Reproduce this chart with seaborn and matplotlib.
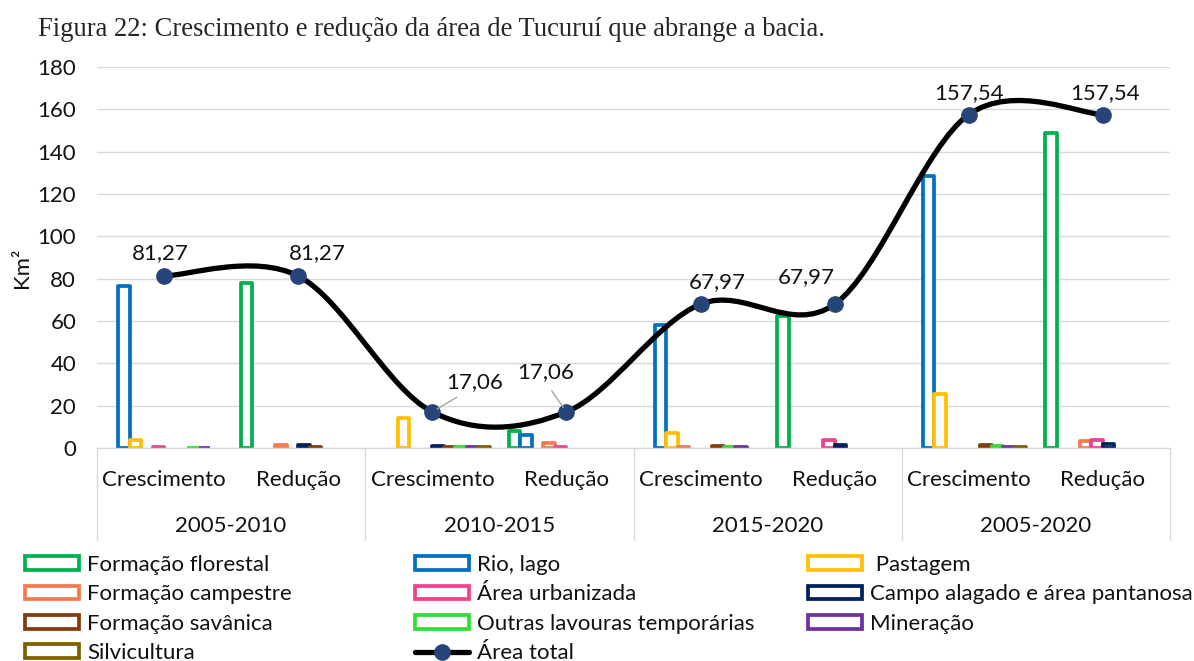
import pandas as pd
import matplotlib.pyplot as plt
import matplotlib.transforms as mtransforms
import seaborn as sns
from matplotlib.path import Path
from matplotlib.patches import PathPatch, Rectangle
from matplotlib.lines import Line2D

# Dados (km²)
periodos = ['2005-2010', '2010-2015', '2015-2020', '2005-2020']
tipos = ['Crescimento', 'Redução']
classes = ['Formação florestal', 'Rio, lago', ' Pastagem', 'Formação campestre',
           'Área urbanizada', 'Campo alagado e área pantanosa', 'Formação savânica',
           'Outras lavouras temporárias', 'Mineração', 'Silvicultura']
formacao_florestal = [0, 78.0, 0, 8.2, 0, 62.5, 0, 148.6]
rio_lago = [76.5, 0, 0, 6.0, 58.3, 0, 128.6, 0]
pastagem = [4.0, 0, 14.2, 0, 7.0, 0, 25.4, 0]
formacao_campestre = [0, 1.3, 0, 2.4, 0.6, 0, 0, 3.4]
area_urbanizada = [0.5, 0, 0, 0.46, 0, 4.0, 0, 3.8]
campo_alagado = [0, 1.5, 1.1, 0, 0, 1.47, 0, 1.74]
formacao_savanica = [0, 0.47, 0.6, 0, 0.8, 0, 1.2, 0]
outras_lavouras = [0.17, 0, 0.4, 0, 0.7, 0, 1.0, 0]
mineracao = [0.1, 0, 0.4, 0, 0.57, 0, 0.7, 0]
silvicultura = [0, 0, 0.36, 0, 0, 0, 0.64, 0]
area_total = [81.27, 81.27, 17.06, 17.06, 67.97, 67.97, 157.54, 157.54]

cores = ['#00B050', '#0070C0', '#FFC000', '#F47B50', '#F0438D',
         '#002060', '#843C0C', '#33DD33', '#7030A0', '#7F6000']
cor_marcador = '#264478'
cor_texto = '#111111'

valores = [formacao_florestal, rio_lago, pastagem, formacao_campestre, area_urbanizada,
           campo_alagado, formacao_savanica, outras_lavouras, mineracao, silvicultura]
cats = [f'{p} {t}' for p in periodos for t in tipos]
rows = []
for nome, vals in zip(classes, valores):
    for c, v in zip(cats, vals):
        if v > 0:
            rows.append({'cat': c, 'classe': nome, 'valor': v})
df = pd.DataFrame(rows)

sns.set_theme(style='white')
plt.rcParams['font.family'] = ['Lato', 'DejaVu Sans']
fs = 16
lw_barra = 2.7

fig = plt.figure(figsize=(11.94, 6.61), dpi=100)
ax = fig.add_axes([97 / 1194, 1 - 448 / 661, (1170 - 97) / 1194, (448 - 67) / 661])

sns.barplot(data=df, x='cat', y='valor', hue='classe', order=cats, hue_order=classes,
            palette=dict(zip(classes, cores)), width=0.8576, saturation=1,
            errorbar=None, legend=False, ax=ax, linewidth=lw_barra, zorder=2)
for p in ax.patches:
    c = p.get_facecolor()
    p.set_edgecolor(c)
    p.set_facecolor('white')
    p.set_joinstyle('round')

# linha suavizada (Bezier) da área total
xs = list(range(len(area_total)))
pts = list(zip(xs, area_total))
n = len(pts)
verts = [pts[0]]
codes = [Path.MOVETO]
for i in range(n - 1):
    p0 = pts[max(i - 1, 0)]
    p1 = pts[i]
    p2 = pts[i + 1]
    p3 = pts[min(i + 2, n - 1)]
    c1 = (p1[0] + (p2[0] - p0[0]) / 6, p1[1] + (p2[1] - p0[1]) / 6)
    c2 = (p2[0] - (p3[0] - p1[0]) / 6, p2[1] - (p3[1] - p1[1]) / 6)
    verts += [c1, c2, p2]
    codes += [Path.CURVE4] * 3
ax.add_patch(PathPatch(Path(verts, codes), facecolor='none', edgecolor='black',
                       lw=3.8, zorder=4, capstyle='round'))
ax.plot(xs, area_total, 'o', ms=11, mfc=cor_marcador, mec=cor_marcador, zorder=5)

# rótulos dos valores
offsets = [(-3, 16.6), (13.7, 16.6), (30.2, 21.6), (-15.1, 28.8),
           (12.2, 15.8), (-20.2, 19.4), (0, 15.8), (1.4, 15.8)]
for i, (x, y) in enumerate(pts):
    txt = f'{y:.2f}'.replace('.', ',')
    if i == 2:
        ax.annotate(txt, (x, y), xytext=offsets[i], textcoords='offset points',
                    ha='center', va='center', fontsize=fs, zorder=6, color=cor_texto,
                    arrowprops=dict(arrowstyle='-', color='#A6A6A6', lw=1,
                                    relpos=(0.35, 0), shrinkA=3, shrinkB=4))
    elif i == 3:
        ax.annotate(txt, (x, y), xytext=offsets[i], textcoords='offset points',
                    ha='center', va='center', fontsize=fs, zorder=6, color=cor_texto,
                    arrowprops=dict(arrowstyle='-', color='#A6A6A6', lw=1,
                                    relpos=(0.5, 0), shrinkA=5, shrinkB=4))
    else:
        ax.annotate(txt, (x, y), xytext=offsets[i], textcoords='offset points',
                    ha='center', va='center', fontsize=fs, zorder=6, color=cor_texto)

ax.set_xlim(-0.5, 7.5)
ax.set_ylim(0, 180)
ax.set_yticks(range(0, 181, 20))
ax.set_xticks(xs)
ax.set_xticklabels(tipos * 4)
ax.set_xlabel('')
ax.set_ylabel('')
ax.tick_params(axis='x', length=0, pad=16, labelsize=fs, colors=cor_texto)
ax.tick_params(axis='y', length=0, pad=15, labelsize=fs, colors=cor_texto)
ax.yaxis.grid(True, color='#D9D9D9', lw=1)
ax.set_axisbelow(True)
for s in ['left', 'top', 'right']:
    ax.spines[s].set_visible(False)
ax.spines['bottom'].set_color('#D9D9D9')
ax.spines['bottom'].set_linewidth(1)

trans = mtransforms.blended_transform_factory(ax.transData, ax.transAxes)
for xb in [-0.5, 1.5, 3.5, 5.5, 7.5]:
    ax.plot([xb, xb], [0, -0.2415], transform=trans, color='#D9D9D9', lw=1,
            clip_on=False)
for i, per in enumerate(periodos):
    ax.text(2 * i + 0.5, -0.204, per, transform=trans, ha='center', va='center',
            fontsize=fs, color=cor_texto)

fig.text(22 / 1194, 1 - 268 / 661, 'Km²', rotation=90, ha='center', va='center',
         fontsize=fs, color=cor_texto)
fig.text(38 / 1194, 1 - 30 / 661,
         'Figura 22: Crescimento e redução da área de Tucuruí que abrange a bacia.',
         family='Liberation Serif', fontsize=19.2, ha='left', va='center')

# legenda em três colunas
def caixa(cor):
    return Rectangle((0, 0), 1, 1, facecolor='white', edgecolor=cor, lw=lw_barra)

h = [caixa(c) for c in cores]
linha = Line2D([], [], color='black', lw=3.8, marker='o', ms=11,
               mfc=cor_marcador, mec=cor_marcador)
colunas = [
    ([h[0], h[3], h[6], h[9]], [classes[0], classes[3], classes[6], classes[9]], 25),
    ([h[1], h[4], h[7], linha], [classes[1], classes[4], classes[7], 'Área total'], 415),
    ([h[2], h[5], h[8]], [classes[2], classes[5], classes[8]], 808),
]
for hs, ls, x0 in colunas:
    fig.legend(hs, ls, loc='upper left', bbox_to_anchor=(x0 / 1194, 1 - 555 / 661),
               frameon=False, fontsize=fs, borderpad=0, borderaxespad=0,
               handlelength=2.45, handleheight=0.55, handletextpad=0.36,
               labelspacing=0.42, labelcolor=cor_texto)

fig.savefig('out.png', dpi=100)
